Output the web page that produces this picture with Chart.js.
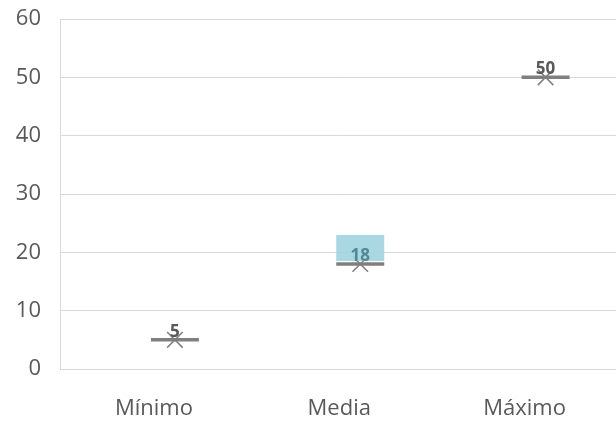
<!DOCTYPE html>
<html>
<head>
<meta charset="utf-8">
<script src="https://cdn.jsdelivr.net/npm/chart.js@4"></script>
<style>
  html, body { margin: 0; padding: 0; background: #ffffff; }
  #wrap { width: 616px; height: 421px; }
</style>
</head>
<body>
<div id="wrap"><canvas id="chart" width="616" height="421"></canvas></div>
<script>
// Resumen estadístico
const categories = ['Mínimo', 'Media', 'Máximo'];
const values = [5, 18, 50];
const yTicks = [0, 10, 20, 30, 40, 50, 60];
const highlighted = 'Media';

const points = values.map((v, i) => ({ x: i, y: v }));

const FONT = '"Open Sans", "Liberation Sans", sans-serif';
const GRID = '#d9d9d9';
const TEXT = '#595959';
const MARK = '#7f7f7f';

// Value labels above each dash; the highlighted category gets a tinted box
const valueLabels = {
  id: 'valueLabels',
  afterDatasetsDraw(chart) {
    const ctx = chart.ctx;
    const meta = chart.getDatasetMeta(0);
    ctx.save();
    ctx.font = 'bold 17px ' + FONT;
    ctx.textAlign = 'center';
    ctx.textBaseline = 'alphabetic';
    meta.data.forEach((pt, i) => {
      const x = pt.x, y = pt.y;
      if (categories[i] === highlighted) {
        ctx.fillStyle = 'rgba(160, 212, 224, 0.9)';
        ctx.fillRect(x - 24, y - 29, 48, 26);
        ctx.fillStyle = '#4f8995';
      } else {
        ctx.fillStyle = TEXT;
      }
      ctx.fillText(String(values[i]), x, y - 3);
    });
    ctx.restore();
  }
};

// Keep the plot area exactly where the layout puts it
function noEdgePadding(axis) {
  axis.paddingTop = 0;
  axis.paddingBottom = 0;
  axis.paddingLeft = 0;
  axis.paddingRight = 0;
}

new Chart(document.getElementById('chart'), {
  type: 'scatter',
  data: {
    datasets: [
      {
        data: points,
        pointStyle: 'line',
        pointRadius: 24,
        pointHoverRadius: 24,
        borderColor: MARK,
        backgroundColor: MARK,
        pointBorderWidth: 3.5,
        borderWidth: 3.5
      },
      {
        data: points,
        pointStyle: 'crossRot',
        pointRadius: 11,
        pointHoverRadius: 11,
        borderColor: MARK,
        backgroundColor: MARK,
        pointBorderWidth: 1.5,
        borderWidth: 1.5
      }
    ]
  },
  options: {
    responsive: false,
    animation: false,
    events: [],
    layout: { autoPadding: false, padding: { top: 19, right: 0, left: 0, bottom: 0 } },
    plugins: {
      legend: { display: false },
      tooltip: { enabled: false }
    },
    scales: {
      x: {
        type: 'linear',
        min: -0.62,
        max: 2.38,
        afterBuildTicks(axis) { axis.ticks = categories.map((c, i) => ({ value: i })); },
        afterFit(axis) { axis.height = 52; noEdgePadding(axis); },
        grid: { display: false, drawTicks: false },
        border: { display: true, color: GRID, width: 1 },
        ticks: {
          padding: 27,
          labelOffset: -21,
          color: TEXT,
          font: { family: FONT, size: 22 },
          maxRotation: 0,
          callback: (v) => categories[v] ?? ''
        }
      },
      y: {
        min: 0,
        max: 60,
        afterBuildTicks(axis) { axis.ticks = yTicks.map(v => ({ value: v })); },
        afterFit(axis) { axis.width = 60; noEdgePadding(axis); },
        grid: { color: GRID, lineWidth: 1, drawTicks: false },
        border: { display: true, color: GRID, width: 1 },
        ticks: {
          padding: 19,
          color: TEXT,
          font: { family: FONT, size: 22 }
        }
      }
    }
  },
  plugins: [valueLabels]
});
</script>
</body>
</html>
